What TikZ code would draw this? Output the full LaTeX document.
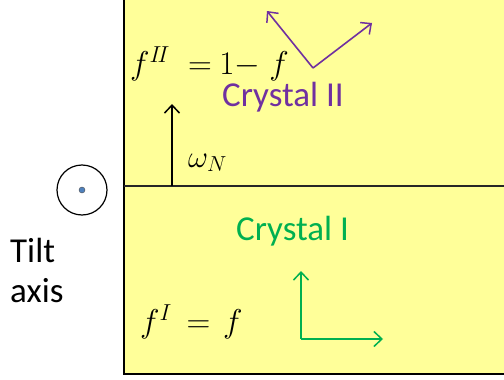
\RequirePackage{fix-cm}
\documentclass[tikz,border=0pt]{standalone}
\usepackage{fontspec}
\setmainfont{Carlito}
\usetikzlibrary{arrows.meta, positioning}
\definecolor{xtYellow}{HTML}{FFFF99}
\definecolor{xtPurple}{HTML}{7030A0}
\definecolor{xtGreen}{HTML}{00B050}
\definecolor{xtBlue}{HTML}{4F81BD}
\tikzset{
  border/.style     = {line width=1.8pt, black, line cap=rect},
  interface/.style  = {line width=1.8pt, black!85},
  vec/.style        = {-{Straight Barb[length=8pt, width=15pt, line width=1.5pt]},
                       line width=1.6pt},
  vec1/.style       = {vec, xtGreen},
  vec2/.style       = {vec, xtPurple},
  lbl/.style        = {inner sep=0pt, anchor=base west, font=\fontsize{35}{40}\selectfont},
  mlbl/.style       = {inner sep=0pt, anchor=base west, font=\fontsize{33}{38}\selectfont},
}

\begin{document}
\begin{tikzpicture}[x=1pt, y=-1pt]
\useasboundingbox (0,0) rectangle (504,380);

% ---- the two crystals ------------------------------------------------------
\fill[xtYellow] (124,0) rectangle (504,374);
\draw[border] (124,0) -- (124,374) -- (504,374);
\draw[interface] (124,186) -- (504,186);

% ---- tilt axis (pointing out of the page) ---------------------------------
\node[circle, draw, line width=1.2pt, minimum size=50pt, inner sep=0pt]
  (tilt) at (82,190) {};
\node[circle, fill=xtBlue, draw=black!70, line width=0.4pt,
  minimum size=6pt, inner sep=0pt] (tiltdot) at (tilt.center) {};
\node[lbl] (tiltlbl) at (10,262) {Tilt};
\node[lbl] (axislbl) at (10,302) {axis};

% ---- crystal II (top) ------------------------------------------------------
\node[mlbl] (fII) at (130,74)
  {$f^{I\!I}\mskip10mu{=}\mskip4mu 1{-}\mskip5mu f$};
\node[lbl, xtPurple] (cII) at (222,106) {Crystal II};
\coordinate (oII) at (313,68);
\coordinate (aII) at (267,11);
\coordinate (bII) at (372,23);
\draw[vec2] (oII) -- (aII);
\draw[vec2] (oII) -- (bII);

% boundary normal
\coordinate (nfoot) at (172,186);
\coordinate (ntip)  at (172,104);
\draw[vec, black] (nfoot) -- (ntip);
\node[mlbl, font=\fontsize{31}{36}\selectfont] (omega) at (188,167) {$\omega_N$};

% ---- crystal I (bottom) ----------------------------------------------------
\node[mlbl] (fI) at (140,332) {$f^{I}\mskip8mu{=}\mskip7mu f$};
\node[lbl, xtGreen] (cI) at (236,240) {Crystal I};
\coordinate (oI) at (301,339);
\coordinate (aI) at (301,271);
\coordinate (bI) at (383,339);
\draw[vec1] (oI) -- (aI);
\draw[vec1] (oI) -- (bI);

\end{tikzpicture}
\end{document}
